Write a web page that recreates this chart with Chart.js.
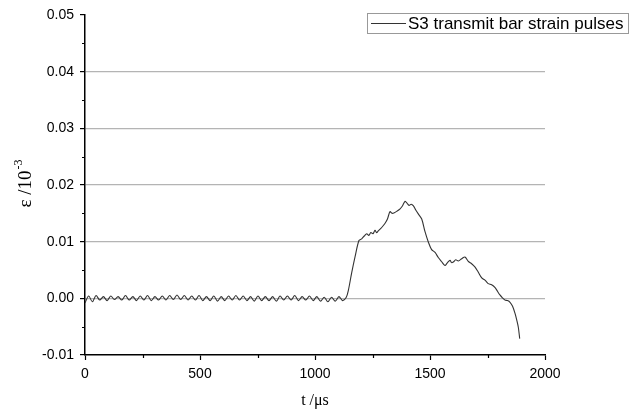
<!DOCTYPE html>
<html>
<head>
<meta charset="utf-8">
<script src="https://cdn.jsdelivr.net/npm/chart.js@4"></script>
<style>
  html, body { margin: 0; padding: 0; background: #fff; }
  #chart { display: block; }
</style>
</head>
<body>
<canvas id="chart" width="635" height="412"></canvas>
<script>
const seriesLabel = 'S3 transmit bar strain pulses';

const timeUs = [
  0, 16, 32, 48, 64, 80, 96, 112, 128, 144, 160, 176, 192, 208, 224, 240, 256, 272,
  288, 304, 320, 336, 352, 368, 384, 400, 416, 432, 448, 464, 480, 496, 512, 528,
  544, 560, 576, 592, 608, 624, 640, 656, 672, 688, 704, 720, 736, 752, 768, 784,
  800, 816, 832, 848, 864, 880, 896, 912, 928, 944, 960, 976, 992, 1008, 1024, 1040,
  1056, 1072, 1088, 1104, 1120, 1136,
  1145, 1159, 1174, 1191, 1203, 1214, 1225, 1234, 1243, 1252, 1261, 1268, 1275, 1290,
  1304, 1315, 1326, 1335, 1345, 1357, 1370, 1380, 1391, 1400, 1409, 1418, 1428, 1438,
  1449, 1464, 1478, 1493, 1507, 1522, 1536, 1550, 1565, 1576, 1587, 1594, 1601, 1612,
  1623, 1638, 1652, 1667, 1681, 1696, 1710, 1725, 1739, 1753, 1768, 1783, 1794, 1804,
  1815, 1826, 1837, 1848, 1859, 1870, 1877, 1884, 1890
];

const strain = [
  -0.0008, 0.0004, -0.0006, 0.0005, -0.0003, 0.0003, -0.0004, 0.0004, -0.0002, 0.0003,
  -0.0003, 0.0005, -0.0003, 0.0003, -0.0004, 0.0004, -0.0003, 0.0005, -0.0004, 0.0003,
  -0.0003, 0.0004, -0.0003, 0.0005, -0.0002, 0.0006, -0.0002, 0.0005, -0.0003, 0.0004,
  -0.0003, 0.0005, -0.0004, 0.0003, -0.0004, 0.0004, -0.0005, 0.0003, -0.0004, 0.0004,
  -0.0003, 0.0005, -0.0003, 0.0004, -0.0004, 0.0003, -0.0005, 0.0004, -0.0004, 0.0003,
  -0.0004, 0.0003, -0.0005, 0.0004, -0.0003, 0.0004, -0.0003, 0.0005, -0.0004, 0.0003,
  -0.0003, 0.0004, -0.0004, 0.0003, -0.0005, 0.0002, -0.0006, 0.0002, -0.0005, 0.0003,
  -0.0004, 0.0002,
  0.0014, 0.0044, 0.0073, 0.0102, 0.0105, 0.0110, 0.0114, 0.0111, 0.0116, 0.0114,
  0.0120, 0.0116, 0.0119, 0.0125, 0.0132, 0.0140, 0.0153, 0.0150, 0.0151, 0.0154,
  0.0158, 0.0163, 0.0171, 0.0168, 0.0164, 0.0166, 0.0163, 0.0156, 0.0149, 0.0140,
  0.0118, 0.0099, 0.0086, 0.0081, 0.0072, 0.0065, 0.0058, 0.0063, 0.0067, 0.0063,
  0.0064, 0.0068, 0.0066, 0.0070, 0.0073, 0.0065, 0.0061, 0.0055, 0.0046, 0.0036,
  0.0032, 0.0026, 0.0024, 0.0019, 0.0012, 0.0006, 0.0001, -0.0003, -0.0004, -0.0007,
  -0.0014, -0.0027, -0.0038, -0.0051, -0.0071
];

const xTicks = [0, 500, 1000, 1500, 2000];
const xMinorTicks = [250, 750, 1250, 1750];
const yTicks = [-0.01, 0.00, 0.01, 0.02, 0.03, 0.04, 0.05];
const yMinorTicks = [-0.005, 0.005, 0.015, 0.025, 0.035, 0.045];

const points = timeUs.map((t, i) => ({ x: t, y: strain[i] }));

// minor ticks, axis titles and the boxed legend
const extrasPlugin = {
  id: 'extras',
  afterDraw(chart) {
    const ctx = chart.ctx;
    const xs = chart.scales.x;
    const ys = chart.scales.y;
    const area = chart.chartArea;
    ctx.save();
    ctx.strokeStyle = '#000';
    ctx.lineWidth = 1.2;
    ctx.beginPath();
    yMinorTicks.forEach(v => {
      const py = Math.round(ys.getPixelForValue(v)) + 0.5;
      ctx.moveTo(area.left - 3, py);
      ctx.lineTo(area.left, py);
    });
    xMinorTicks.forEach(v => {
      const px = Math.round(xs.getPixelForValue(v)) + 0.5;
      ctx.moveTo(px, area.bottom);
      ctx.lineTo(px, area.bottom + 3);
    });
    ctx.stroke();

    const serif = '"Liberation Serif", "Times New Roman", serif';

    // x title
    ctx.fillStyle = '#000';
    ctx.font = '16px ' + serif;
    ctx.textAlign = 'center';
    ctx.textBaseline = 'middle';
    ctx.fillText('t /\u03bcs', xs.getPixelForValue(1000), 401);

    // y title with superscript
    ctx.save();
    ctx.translate(26, 184);
    ctx.rotate(-Math.PI / 2);
    const main = '\u03b5 /10';
    const sup = '-3';
    ctx.font = '19px ' + serif;
    const wMain = ctx.measureText(main).width;
    ctx.font = '12px ' + serif;
    const wSup = ctx.measureText(sup).width;
    const start = -(wMain + wSup) / 2;
    ctx.textAlign = 'left';
    ctx.font = '19px ' + serif;
    ctx.fillText(main, start, 0);
    ctx.font = '12px ' + serif;
    ctx.fillText(sup, start + wMain + 1, -7);
    ctx.restore();

    // legend
    const lx = 367, ly = 13, lw = 261, lh = 20;
    ctx.fillStyle = '#fff';
    ctx.fillRect(lx, ly, lw, lh);
    ctx.strokeStyle = '#999';
    ctx.lineWidth = 1;
    ctx.strokeRect(lx + 0.5, ly + 0.5, lw, lh);
    ctx.strokeStyle = '#333';
    ctx.beginPath();
    ctx.moveTo(371, ly + lh / 2 + 0.5);
    ctx.lineTo(406, ly + lh / 2 + 0.5);
    ctx.stroke();
    ctx.fillStyle = '#000';
    ctx.font = '17px "Liberation Sans", Arial, sans-serif';
    ctx.textAlign = 'left';
    ctx.textBaseline = 'middle';
    ctx.fillText(seriesLabel, 408, ly + lh / 2 + 1);
    ctx.restore();
  }
};

new Chart(document.getElementById('chart').getContext('2d'), {
  type: 'line',
  data: {
    datasets: [{
      label: seriesLabel,
      data: points,
      borderColor: '#333333',
      borderWidth: 1.1,
      pointRadius: 0,
      tension: 0.3,
      fill: false
    }]
  },
  options: {
    responsive: false,
    animation: false,
    layout: { padding: { top: 15, right: 90, left: 0, bottom: 0 } },
    plugins: {
      legend: { display: false },
      tooltip: { enabled: false }
    },
    scales: {
      x: {
        type: 'linear',
        min: 0,
        max: 2000,
        afterBuildTicks: scale => { scale.ticks = xTicks.map(v => ({ value: v })); },
        afterFit: scale => { scale.height = 57; },
        border: { color: '#000', width: 1.5 },
        grid: { drawOnChartArea: false, drawTicks: true, tickLength: 5, tickColor: '#000', tickWidth: 1.2 },
        ticks: {
          color: '#000',
          padding: 6,
          maxRotation: 0,
          font: { family: '"Liberation Sans", Arial, sans-serif', size: 14 },
          callback: v => String(v)
        }
      },
      y: {
        min: -0.01,
        max: 0.05,
        afterBuildTicks: scale => { scale.ticks = yTicks.map(v => ({ value: v })); },
        afterFit: scale => { scale.width = 85; },
        border: { color: '#000', width: 1.5 },
        grid: {
          drawTicks: true,
          tickLength: 5,
          tickColor: '#000',
          tickWidth: 1.2,
          color: c => (c.tick && (c.tick.value > 0.045 || c.tick.value < -0.005)) ? 'rgba(0,0,0,0)' : '#b4b4b4',
          lineWidth: 1.2
        },
        ticks: {
          color: '#000',
          padding: 6,
          font: { family: '"Liberation Sans", Arial, sans-serif', size: 14 },
          callback: v => v.toFixed(2)
        }
      }
    }
  },
  plugins: [extrasPlugin]
});
</script>
</body>
</html>
